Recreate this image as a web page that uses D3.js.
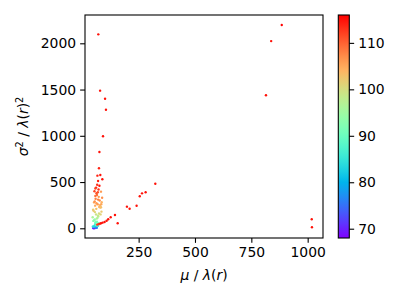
<!DOCTYPE html>
<html lang="en">
  <head>
    <meta charset="UTF-8" />
    <title>mu vs sigma2 scatter</title>
    <script src="https://cdn.jsdelivr.net/npm/d3@7"></script>
    <style>
      body { margin: 0; background: #fff; }
      text { font-family: "DejaVu Sans", sans-serif; fill: #000; }
      .axis path, .axis line { stroke: #000; stroke-width: 1.1px; }
      .axis text { font-size: 13.9px; }
    </style>
  </head>
  <body>
    <div id="chart"></div>
    <script>

// mu / lambda(r) for every point
var mu = [
  56, 48, 52, 55, 60, 53, 64, 58, 50, 62,
  54, 66, 47, 68, 57, 63, 51, 70,
  58, 65, 49, 72, 55, 67, 60, 53,
  46, 69, 61, 74, 56, 64, 71,
  50, 62, 75, 57, 68, 52, 77, 59, 73, 65, 48, 80, 63, 55, 70, 78, 58,
  83, 86, 83, 88, 85, 81, 84,
  63, 54, 72, 61, 76, 66, 58, 69,
  66, 72, 78, 83, 90, 99, 108, 115, 126, 145, 157, 198, 210, 241, 255, 265, 281, 324,
  71, 79, 101, 105, 92, 76, 74, 80, 67, 70, 89,
  885, 838, 815, 1018, 1019
];
// sigma^2 / lambda(r)^2
var sigma2 = [
  2, 5, 8, 3, 10, 12, 6, 15, 1, 4,
  25, 30, 20, 40, 45, 35, 18, 28,
  60, 70, 80, 55, 95, 110, 65, 88,
  120, 135, 150, 160, 175, 105, 128,
  190, 210, 230, 245, 260, 280, 300, 320, 340, 360, 200, 225, 270, 290, 310, 250, 350,
  396, 281, 227, 330, 180, 150, 260,
  380, 400, 420, 440, 460, 470, 430, 390,
  40, 45, 50, 54, 61, 68, 82, 97, 119, 144, 54, 234, 212, 244, 346, 378, 389, 482,
  2097, 1488, 1401, 1282, 995, 824, 649, 576, 569, 511, 530,
  2198, 2024, 1438, 97, 11
];
// colour value
var zval = [
  68, 72, 75, 74, 78, 80, 77, 82, 70, 76,
  84, 86, 85, 88, 87, 89, 83, 86,
  90, 92, 93, 91, 94, 95, 91, 93,
  96, 98, 99, 100, 101, 97, 98,
  102, 103, 104, 105, 106, 105, 107, 108, 106, 109, 102, 104, 106, 107, 108, 104, 109,
  106, 104, 103, 107, 102, 101, 105,
  111, 112, 113, 114, 115, 113, 112, 111,
  112, 113, 114, 115, 115, 115, 115, 115, 115, 115, 115, 115, 115, 115, 115, 115, 115, 115,
  115, 115, 115, 115, 115, 115, 114, 115, 114, 114, 115,
  116, 115, 115, 115, 115
];

var xTicks = [250, 500, 750, 1000];
var yTicks = [0, 500, 1000, 1500, 2000];
var cTicks = [70, 80, 90, 100, 110];

var width = 400;
var height = 300;
var margin = {top: 15, right: 77, bottom: 62, left: 85};
var plotW = width - margin.left - margin.right;
var plotH = height - margin.top - margin.bottom;
var tick = 4.86;

// matplotlib "rainbow" colormap
function rainbow(t) {
  var r = Math.min(1, Math.abs(2 * t - 0.5));
  var g = Math.max(0, Math.sin(Math.PI * t));
  var b = Math.max(0, Math.cos(Math.PI * t / 2));
  return d3.rgb(r * 255, g * 255, b * 255).toString();
}

var points = mu.map(function(d, i) {
  return {x: d, y: sigma2[i], z: zval[i]};
});

var svg = d3.select("#chart")
  .append("svg")
  .attr("width", width)
  .attr("height", height);

var xScale = d3.scaleLinear().domain([12, 1068]).range([0, plotW]);
var yScale = d3.scaleLinear().domain([-105, 2306]).range([plotH, 0]);
var cScale = d3.scaleSequential(rainbow).domain([d3.min(zval), d3.max(zval)]);

var g = svg.append("g")
  .attr("transform", "translate(" + margin.left + "," + margin.top + ")");

g.selectAll("circle")
  .data(points)
  .enter().append("circle")
  .attr("cx", function(d) { return xScale(d.x); })
  .attr("cy", function(d) { return yScale(d.y); })
  .attr("r", 1.2)
  .style("fill", function(d) { return cScale(d.z); });

// axes
g.append("g")
  .attr("class", "axis")
  .attr("transform", "translate(0," + plotH + ")")
  .call(d3.axisBottom(xScale).tickValues(xTicks).tickFormat(d3.format("d"))
    .tickSize(tick).tickPadding(4).tickSizeOuter(0));

g.append("g")
  .attr("class", "axis")
  .call(d3.axisLeft(yScale).tickValues(yTicks).tickFormat(d3.format("d"))
    .tickSize(tick).tickPadding(4).tickSizeOuter(0));

g.selectAll(".axis .domain").remove();

g.append("rect")
  .attr("width", plotW)
  .attr("height", plotH)
  .attr("fill", "none")
  .attr("stroke", "#000")
  .attr("stroke-width", 1.1);

// axis labels
var xl = svg.append("text")
  .attr("x", margin.left + plotW / 2)
  .attr("y", 280)
  .attr("text-anchor", "middle")
  .style("font-size", "13.9px");
xl.append("tspan").attr("font-style", "italic").text("\u03bc");
xl.append("tspan").text(" / ");
xl.append("tspan").attr("font-style", "italic").text("\u03bb");
xl.append("tspan").text("(");
xl.append("tspan").attr("font-style", "italic").text("r");
xl.append("tspan").text(")");

var yl = svg.append("text")
  .attr("transform", "translate(28," + (margin.top + plotH / 2) + ") rotate(-90)")
  .attr("text-anchor", "middle")
  .style("font-size", "13.9px");
yl.append("tspan").attr("font-style", "italic").text("\u03c3");
yl.append("tspan").attr("dy", -5).style("font-size", "9.7px").text("2");
yl.append("tspan").attr("dy", 5).text(" / ");
yl.append("tspan").attr("font-style", "italic").text("\u03bb");
yl.append("tspan").text("(");
yl.append("tspan").attr("font-style", "italic").text("r");
yl.append("tspan").text(")");
yl.append("tspan").attr("dy", -5).style("font-size", "9.7px").text("2");

// colorbar
var cbX = 338.3, cbW = 11;
var cbScale = d3.scaleLinear().domain(cScale.domain()).range([margin.top + plotH, margin.top]);

var grad = svg.append("defs").append("linearGradient")
  .attr("id", "cbgrad")
  .attr("x1", 0).attr("y1", 1).attr("x2", 0).attr("y2", 0);
d3.range(0, 1.0001, 1 / 64).forEach(function(t) {
  grad.append("stop").attr("offset", t).attr("stop-color", rainbow(t));
});

svg.append("rect")
  .attr("x", cbX)
  .attr("y", margin.top)
  .attr("width", cbW)
  .attr("height", plotH)
  .attr("fill", "url(#cbgrad)")
  .attr("stroke", "#000")
  .attr("stroke-width", 1.1);

svg.append("g")
  .attr("class", "axis")
  .attr("transform", "translate(" + (cbX + cbW) + ",0)")
  .call(d3.axisRight(cbScale).tickValues(cTicks).tickSize(tick).tickPadding(4).tickSizeOuter(0))
  .select(".domain").remove();

    </script>
  </body>
</html>
